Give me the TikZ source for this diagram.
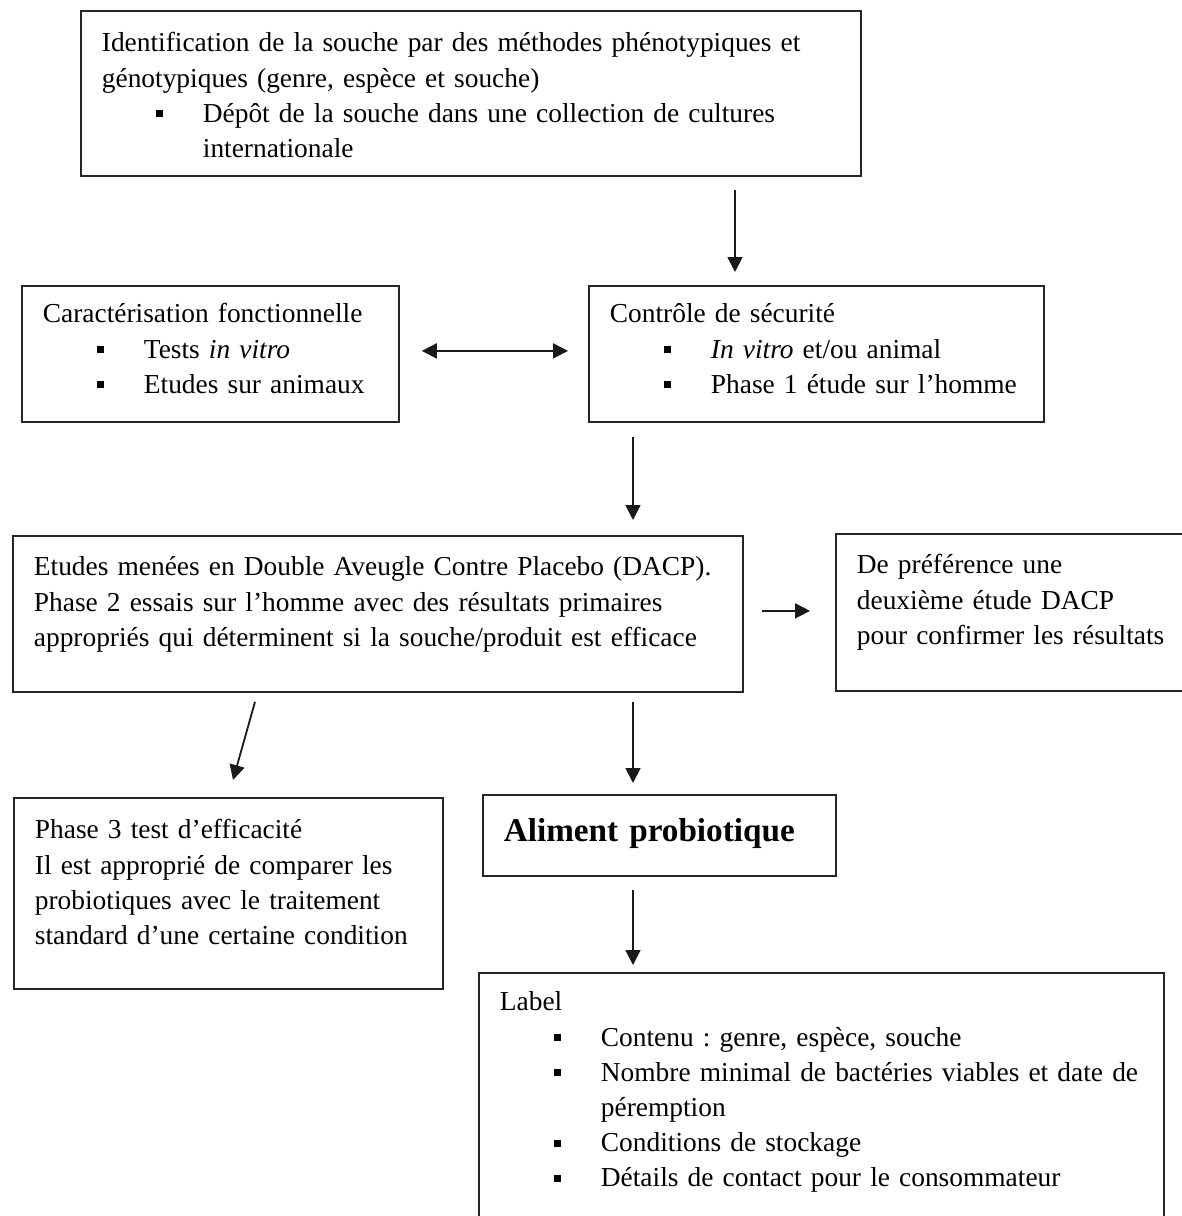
\documentclass[tikz,border=0pt]{standalone}
\usepackage{fontspec}
\setmainfont{Liberation Serif}
\usetikzlibrary{arrows.meta}
\frenchspacing

\newcommand{\puce}{\hspace*{27pt}\makebox[23.5pt][l]{\rule[2.5pt]{3.5pt}{3.5pt}}}
\newcommand{\retrait}{\hspace*{50.5pt}}

\begin{document}
\begin{tikzpicture}[
    x=0.5pt, y=-0.5pt,
    >={Triangle[length=7.5pt,width=7.5pt]},
    every node/.style={font=\fontsize{13.7pt}{17.6pt}\selectfont},
    cadre/.style={draw=black!85, line width=0.9pt, anchor=north west, align=left,
        inner xsep=10.5pt, inner ysep=0pt},
    fleche/.style={->, line width=0.9pt, draw=black!90}
]

\useasboundingbox (0,0) rectangle (1182,1216);
\clip (0,0) rectangle (1182,1216);
\fill[white] (0,0) rectangle (1182,1216);

\node[cadre, text width=369pt, text height=20.5pt, text depth=62pt] (ident) at (80,10)
    {Identification de la souche par des méthodes phénotypiques et\\
     génotypiques (genre, espèce et souche)\\
     \puce Dépôt de la souche dans une collection de cultures\\
     \retrait internationale};

\node[cadre, text width=167.5pt, text height=18.5pt, text depth=49.5pt] (carac) at (21,285)
    {Caractérisation fonctionnelle\\
     \puce Tests \textit{in vitro}\\
     \puce Etudes sur animaux};

\node[cadre, text width=206.5pt, text height=18.5pt, text depth=49.5pt] (controle) at (588,285)
    {Contrôle de sécurité\\
     \puce \textit{In vitro} et/ou animal\\
     \puce Phase 1 étude sur l'homme};

\node[cadre, text width=344pt, text height=20pt, text depth=58pt] (etudes) at (12,535)
    {Etudes menées en Double Aveugle Contre Placebo (DACP).\\
     Phase 2 essais sur l'homme avec des résultats primaires\\
     appropriés qui déterminent si la souche/produit est efficace};

\node[cadre, text width=170pt, text height=20pt, text depth=58.5pt] (pref) at (835,533)
    {De préférence une\\
     deuxième étude DACP\\
     pour confirmer les résultats};

\node[cadre, text width=193.5pt, text height=20.5pt, text depth=75pt] (phase3) at (13,797)
    {Phase 3 test d'efficacité\\
     Il est approprié de comparer les\\
     probiotiques avec le traitement\\
     standard d'une certaine condition};

\node[cadre, text width=155.5pt, text height=23.5pt, text depth=17pt,
    font=\fontsize{16.6pt}{20pt}\selectfont\bfseries] (aliment) at (482,794)
    {Aliment probiotique};

\node[cadre, text width=321.5pt, text height=19pt, text depth=116pt] (label) at (478,972)
    {Label\\
     \puce Contenu : genre, espèce, souche\\
     \puce Nombre minimal de bactéries viables et date de\\
     \retrait péremption\\
     \puce Conditions de stockage\\
     \puce Détails de contact pour le consommateur};

\draw[fleche] ([xshift=327.5pt,yshift=-6.5pt]ident.south west) -- ([xshift=73.5pt,yshift=6.5pt]controle.north west);

\draw[fleche, <->, shorten <=11pt, shorten >=10pt] ([yshift=1.5pt]carac.east) -- ([yshift=1.5pt]controle.west);

\draw[fleche] ([xshift=22.5pt,yshift=-7pt]controle.south west) -- ([xshift=310.5pt,yshift=7.5pt]etudes.north west);

\draw[fleche, shorten <=9pt, shorten >=12.5pt] ([yshift=1.5pt]etudes.east) -- ([yshift=0.75pt]pref.west);

\draw[fleche] ([xshift=121.5pt,yshift=-4.5pt]etudes.south west) -- ([xshift=110pt,yshift=8.5pt]phase3.north west);
\draw[fleche] ([xshift=310.5pt,yshift=-4.5pt]etudes.south west) -- ([xshift=75.5pt,yshift=5.5pt]aliment.north west);

\draw[fleche] ([xshift=75.5pt,yshift=-6.5pt]aliment.south west) -- ([xshift=77.5pt,yshift=3.5pt]label.north west);

\end{tikzpicture}
\end{document}
